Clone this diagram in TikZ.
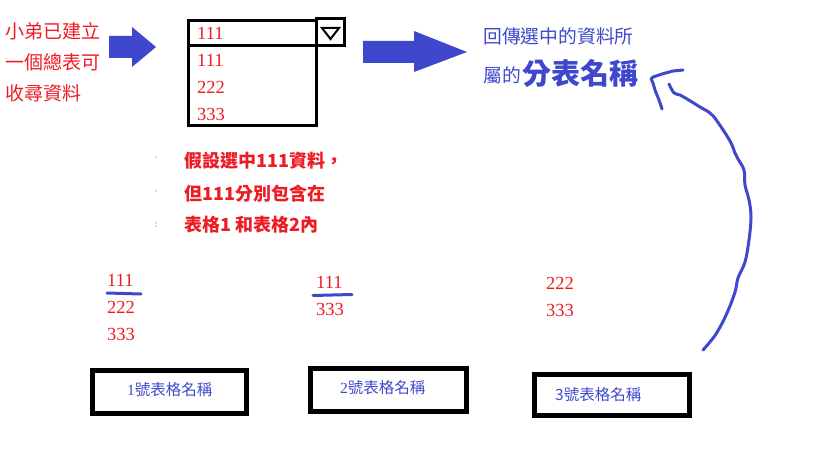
\documentclass[tikz,border=0pt]{standalone}
\usepackage{fontspec}
\setmainfont{Liberation Serif}
\newfontfamily\cjk{Noto Sans CJK TC}
\definecolor{pred}{RGB}{237,28,36}
\definecolor{pblue}{RGB}{63,72,204}
\begin{document}
\begin{tikzpicture}[x=1pt,y=-1pt,
  redcjk/.style={anchor=west,inner sep=0,text=pred,font=\cjk\fontsize{19}{19}\selectfont},
  bluecjk/.style={anchor=west,inner sep=0,text=pblue,font=\cjk\fontsize{18.8}{18.8}\selectfont},
  midcjk/.style={anchor=west,inner sep=0,text=pred,font=\cjk\bfseries\fontsize{18}{18}\selectfont},
  num/.style={anchor=west,inner sep=0,text=pred,font=\fontsize{18.5}{18.5}\selectfont},
  tabbox/.style={draw=black,line width=5pt},
  combobox/.style={draw=black,line width=3pt},
  boxlabel/.style={anchor=west,inner sep=0,text=pblue,font=\cjk\fontsize{15.5}{15.5}\selectfont},
  uline/.style={draw=pblue,line width=3pt,line cap=round},
  blockarrow/.style={fill=pblue,draw=none},
  handline/.style={draw=pblue,line width=3pt,line cap=round,line join=round}]
\useasboundingbox (0,0) rectangle (819,460);

% left red text
\node[redcjk] (l1) at (5,31) {小弟已建立};
\node[redcjk] (l2) at (5,62) {一個總表可};
\node[redcjk] (l3) at (5,93) {收尋資料};

% block arrow 1
\path[blockarrow] (109,36) -- (132,36) -- (132,27) -- (156,47) -- (132,67) -- (132,58) -- (109,58) -- cycle;

% combo box
\draw[combobox] (188,20.5) rectangle (316,45.5);
\draw[combobox] (316,19) rectangle (344,46);
\draw[black,line width=2pt,line join=miter] (322,28) -- (339,28) -- (330.5,39) -- cycle;
\draw[combobox] (188,45.5) rectangle (316,125);
\node[num] (c0) at (197,33) {111};
\node[num] (c1) at (197,60) {111};
\node[num] (c2) at (197,87) {222};
\node[num] (c3) at (197,114) {333};

% block arrow 2
\path[blockarrow] (363,41) -- (414,41) -- (414,31) -- (467,52) -- (414,72) -- (414,63) -- (363,63) -- cycle;

% blue result text
\node[bluecjk] (r1) at (483,36) {回傳選中的資料所};
\node[bluecjk] (r2) at (483,75) {屬的};
\node[anchor=west,inner sep=0,text=pblue,font=\cjk\bfseries\fontsize{29}{29}\selectfont] (r3) at (522,73) {分表名稱};

% middle red text
\fill[pred!60!gray] (156,157) circle (0.6);
\fill[pred!60!gray] (156,191) circle (0.6);
\fill[pred!60!gray] (156,223) circle (0.6);
\fill[pred!60!gray] (156,226) circle (0.6);
\node[midcjk] (m1) at (184,161) {假設選中111資料，};
\node[midcjk] (m2) at (184,194) {但111分別包含在};
\node[midcjk] (m3) at (184,225) {表格1 和表格2內};

% column 1
\node[num] (a1) at (107,280) {111};
\node[num] (a2) at (107,307) {222};
\node[num] (a3) at (107,334) {333};
\coordinate (u1a) at (107,293);
\coordinate (u1b) at (141,294);
\draw[uline] (u1a) -- (u1b);

% column 2
\node[num] (b1) at (316,282) {111};
\node[num] (b2) at (316,309) {333};
\coordinate (u2a) at (313,295.5);
\coordinate (u2b) at (352,294.5);
\draw[uline] (u2a) -- (u2b);

% column 3
\node[num] (d1) at (546,283) {222};
\node[num] (d2) at (546,310) {333};

% table boxes
\draw[tabbox] (92.5,370.5) rectangle (246.5,413.5);
\node[boxlabel] (t1) at (127,390) {{\rmfamily 1}號表格名稱};
\draw[tabbox] (310.5,368.5) rectangle (466.5,411.5);
\node[boxlabel] (t2) at (340,388) {{\rmfamily 2}號表格名稱};
\draw[tabbox] (534.5,374.5) rectangle (689.5,415.5);
\node[boxlabel] (t3) at (555,395) {3號表格名稱};

% curved hand-drawn arrow
\coordinate (cs) at (703,350);
\coordinate (ce) at (669,84);
\draw[handline] plot[smooth,tension=0.6] coordinates {(cs) (716,334) (727,313) (735,292) (738,278) (745,262) (749,240) (751,217) (749,200) (745,185) (744,170) (738,159) (735,153) (730,141) (717,121) (710,113) (700,107) (692,102) (680,95) (674,93) (ce)};
\coordinate (h1) at (662,109);
\coordinate (h2) at (651,79);
\coordinate (h3) at (683,70);
\draw[handline] plot[smooth,tension=0.5] coordinates {(h1) (659,100) (655,90) (653,83) (h2)} -- (653,77) -- (662,74) -- (673,71) -- (h3);
\end{tikzpicture}
\end{document}
